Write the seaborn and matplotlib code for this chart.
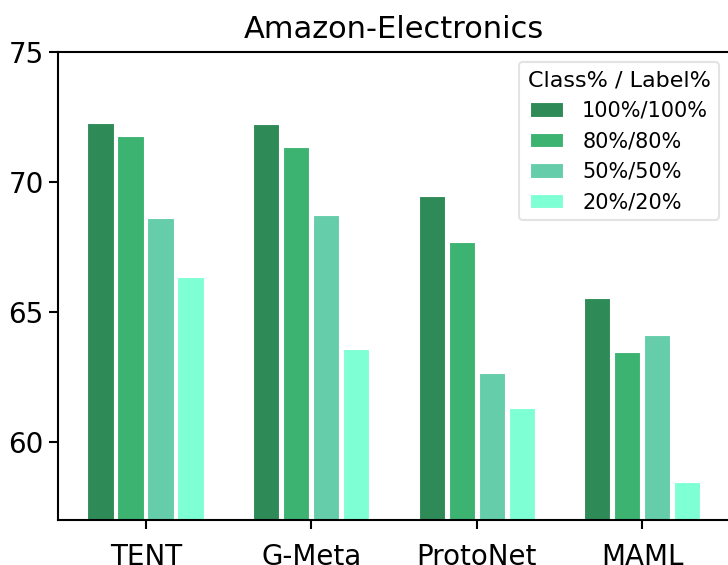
import matplotlib
matplotlib.use("Agg")
import matplotlib.pyplot as plt
import seaborn as sns
import pandas as pd

methods = ["TENT", "G-Meta", "ProtoNet", "MAML"]
settings = ["100%/100%", "80%/80%", "50%/50%", "20%/20%"]
vals_100 = [72.30, 72.25, 69.48, 65.56]
vals_80 = [71.79, 71.35, 67.72, 63.47]
vals_50 = [68.61, 68.74, 62.66, 64.14]
vals_20 = [66.37, 63.58, 61.32, 58.49]
colors = ["#2E8B57", "#3CB371", "#66CDAA", "#7FFFD4"]

rows = []
for s, vals in zip(settings, [vals_100, vals_80, vals_50, vals_20]):
    for m, v in zip(methods, vals):
        rows.append({"Method": m, "Setting": s, "Acc": v})
df = pd.DataFrame(rows)

sns.set_style("ticks")
plt.rcParams['font.family'] = ['DejaVu Sans']
plt.rcParams['text.color'] = 'black'
plt.rcParams['axes.labelcolor'] = 'black'
plt.rcParams['xtick.color'] = 'black'
plt.rcParams['ytick.color'] = 'black'
plt.rcParams['axes.edgecolor'] = 'black'

fig = plt.figure(figsize=(7.28, 5.65), dpi=100)
ax = fig.add_axes([58.3/728, 1 - 520.3/565, 671.3/728, (520.3-52.3)/565])

sns.barplot(data=df, x="Method", y="Acc", hue="Setting", order=methods,
            hue_order=settings, palette=colors, saturation=1, width=0.725,
            gap=0.12, edgecolor="white", linewidth=0.8, ax=ax)

ax.set_ylim(57, 75)
ax.set_xlim(-0.528, 3.528)
ax.set_yticks([60, 65, 70, 75])
ax.set_xlabel("")
ax.set_ylabel("")
ax.set_title("Amazon-Electronics", fontsize=22, pad=10, color="black")
ax.tick_params(axis="both", labelsize=20, length=6.5, width=1.5)
ax.tick_params(axis="x", pad=9.5)
ax.tick_params(axis="y", pad=4)
for sp in ax.spines.values():
    sp.set_linewidth(1.5)
    sp.set_visible(True)
    sp.set_color("black")

leg = ax.legend(title="Class% / Label%", fontsize=15, title_fontsize=16,
                loc="upper right", bbox_to_anchor=(0.984, 0.979),
                borderaxespad=0, handlelength=1.6, handletextpad=0.9,
                frameon=True)
leg.get_frame().set_edgecolor("#dddddd")
leg.get_frame().set_linewidth(1.5)

fig.savefig("out.png", dpi=100)
